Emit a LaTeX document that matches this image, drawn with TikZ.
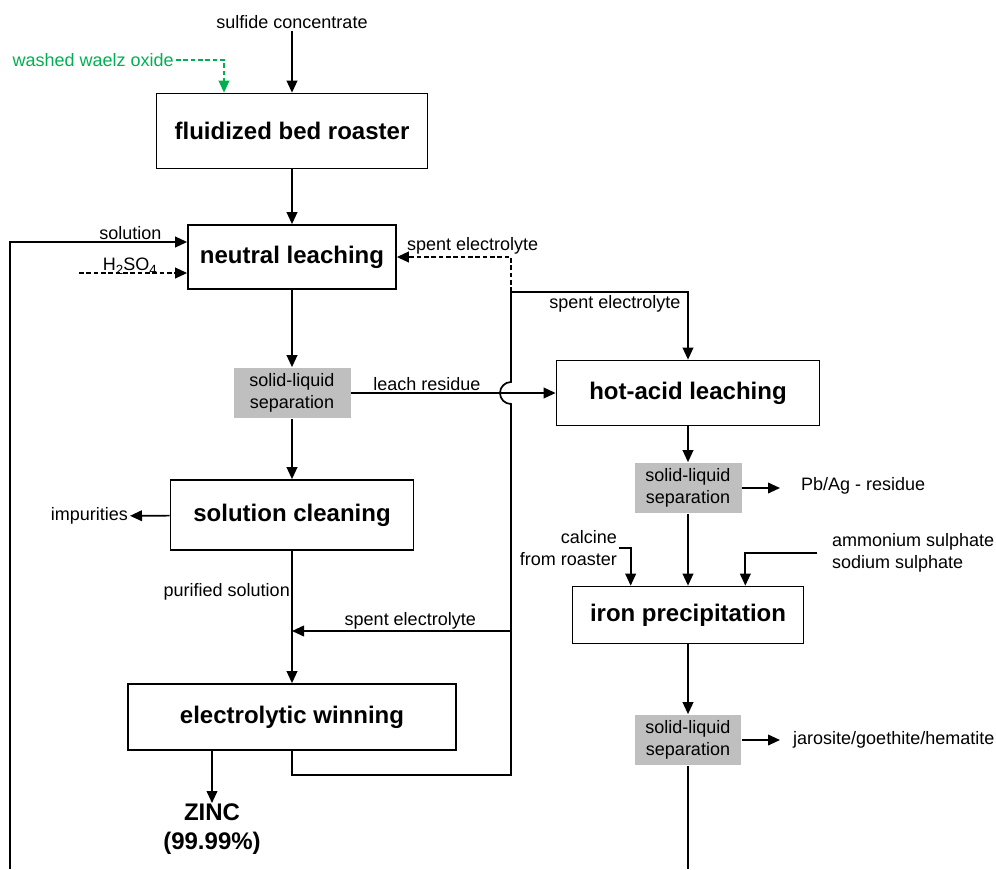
\documentclass[tikz,border=0pt]{standalone}
\usepackage{fontspec}
\setmainfont{Liberation Sans}
\usetikzlibrary{arrows.meta}
\definecolor{waelzgreen}{RGB}{0,176,80}

\begin{document}
\begin{tikzpicture}[x=0.75pt,y=-0.75pt,line width=1.3pt,
   >={Triangle[length=9pt,width=8pt]},
   stage/.style={draw,line width=1.3pt,inner sep=0pt,font=\fontsize{18}{22}\selectfont\bfseries},
   sepbox/.style={fill=black!25,inner sep=0pt,align=center,minimum width=80.25pt,minimum height=37.5pt,font=\fontsize{13.5}{16.5}\selectfont},
   lbl/.style={inner sep=1pt,font=\fontsize{13.5}{16.5}\selectfont},
   feed/.style={dash pattern=on 3.5pt off 2pt}]
   \useasboundingbox (0,0) rectangle (996,869);

   % left column
   \node[lbl] (sulf) at (292,22) {sulfide concentrate};
   \node[lbl,text=waelzgreen,anchor=east] (waelz) at (176,60) {washed waelz oxide};
   \node[stage,minimum width=203.25pt,minimum height=56.25pt] (roaster) at (292,131) {fluidized bed roaster};
   \node[stage,minimum width=156pt,minimum height=48pt] (neutral) at (292,257) {neutral leaching};
   \node[sepbox,minimum width=87.75pt] (sep1) at (292,393) {solid-liquid\\separation};
   \node[stage,minimum width=182.25pt,minimum height=52.5pt] (clean) at (292,515) {solution cleaning};
   \node[stage,minimum width=246pt,minimum height=49.5pt] (win) at (292,717) {electrolytic winning};
   \node[inner sep=0pt,align=center,anchor=north,font=\fontsize{18}{22}\selectfont\bfseries] (zinc) at (212,803) {ZINC\\(99.99\%)};
   \node[lbl,anchor=east] (imp) at (130,516) {impurities};

   % right column
   \node[stage,minimum width=197.25pt,minimum height=48.75pt] (hot) at (688,393) {hot-acid leaching};
   \node[sepbox] (sep2) at (688,488) {solid-liquid\\separation};
   \node[stage,minimum width=173.25pt,minimum height=42.75pt] (iron) at (688,615) {iron precipitation};
   \node[sepbox,minimum width=79.5pt] (sep3) at (688,740) {solid-liquid\\separation};
   \node[lbl,anchor=west] (pbag) at (799,486) {Pb/Ag - residue};
   \node[lbl,anchor=west] (jgh) at (791,740) {jarosite/goethite/hematite};
   \node[lbl,anchor=east,align=right] (calc) at (619,548) {calcine\\from roaster};
   \node[lbl,anchor=west,align=left] (amm) at (830,553) {ammonium sulphate\\sodium sulphate};
   \node[lbl,anchor=west] (spent1) at (405,246) {spent electrolyte};

   \coordinate (solin) at (10,869);
   \coordinate (acid) at (79,273);
   \coordinate (jtop) at (511,292);
   \coordinate (jmid) at (511,631);
   \coordinate (jbot) at (511,775);
   \coordinate (res) at (688,869);

   \path[->]
    (sulf)    edge (roaster)
    (roaster) edge (neutral)
    (neutral) edge (sep1)
    (sep1)    edge node[lbl,above,pos=0.37] {leach residue} (hot)
    (sep1)    edge (clean)
    (clean)   edge (imp)
    (clean)   edge node[lbl,left,pos=0.31] {purified solution} (win)
    (hot)     edge (sep2)
    (sep2)    edge (iron)
    (iron)    edge (sep3)
    ;

   \draw[waelzgreen,feed,->] (waelz) -| ([xshift=-51pt]roaster.north);
   \draw[->] (solin) |- ([yshift=11.25pt]neutral.west) node[lbl,above,pos=0.84] {solution};
   \draw[feed,->] (acid) -- ([yshift=-12pt]neutral.west)
     node[lbl,above,pos=0.47,yshift=-3pt] {H\raisebox{-3.5pt}{\fontsize{10}{10}\selectfont 2}SO\raisebox{-3.5pt}{\fontsize{10}{10}\selectfont 4}};
   \draw[feed,->] (jtop) |- (neutral.east);
   \draw[->] (jtop) -| (hot) node[lbl,below left,pos=0.5,xshift=-4pt,yshift=-1pt] {spent electrolyte};
   \draw (win) |- (jbot) -- ([yshift=-8.25pt]jbot |- sep1.east) arc[start angle=90,end angle=270,radius=11] -- (jtop);
   \draw[->] (jmid) -- (clean.south |- jmid) node[lbl,above,pos=0.46] {spent electrolyte};
   \draw[->] (zinc |- win.south) -- (zinc);
   \draw[->,shorten >=14.25pt] (sep2) -- (pbag.west |- sep2);
   \draw[->,shorten >=8.25pt] (sep3) -- (jgh.west |- sep3);
   \draw[->] (calc) -| ([xshift=-43pt]iron.north);
   \draw[->,shorten <=9.75pt] (amm) -| ([xshift=43pt]iron.north);
   \draw (sep3) -- (res);
\end{tikzpicture}
\end{document}
